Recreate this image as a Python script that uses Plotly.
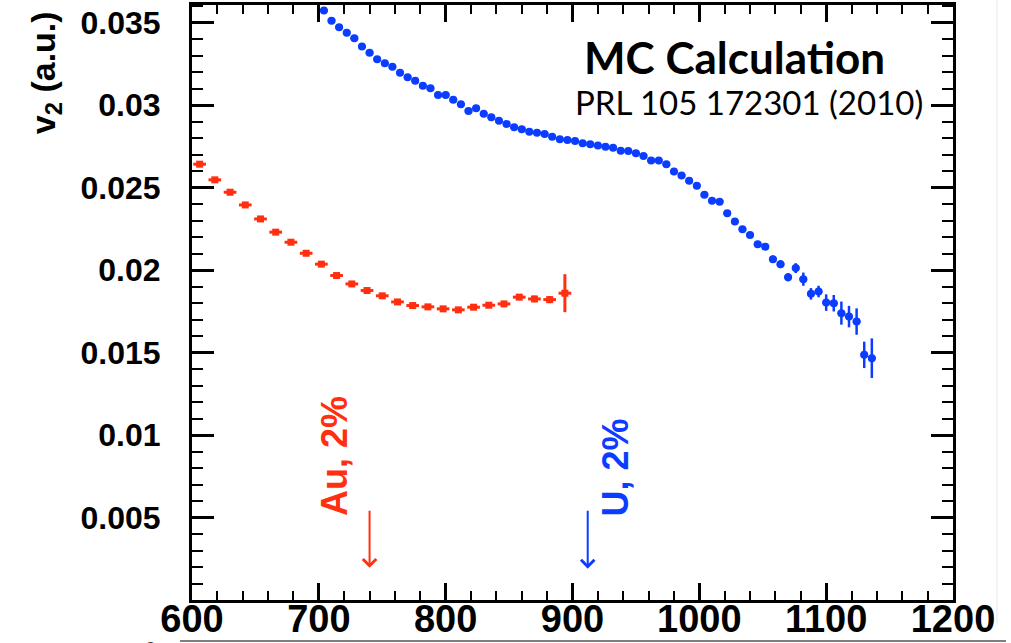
import plotly.graph_objects as go

# ---------------- data ----------------
au_x = [606, 618, 630, 642, 654, 666, 678, 690, 702, 714, 726, 738, 750,
        762, 774, 786, 798, 810, 822, 834, 846, 858, 870, 882, 894]
au_v2 = [0.02642, 0.02547, 0.02472, 0.02395, 0.02310, 0.02230, 0.02169,
         0.02102, 0.02036, 0.01967, 0.01916, 0.01876, 0.01844, 0.01807,
         0.01785, 0.01777, 0.01765, 0.01759, 0.01775, 0.01787, 0.01795,
         0.01836, 0.01825, 0.01821, 0.01860]
au_err = [0.00012, 0.00012, 0.00012, 0.00012, 0.00012, 0.00012, 0.00012,
          0.00012, 0.00012, 0.00012, 0.00012, 0.00012, 0.00012, 0.00012,
          0.00012, 0.00012, 0.00012, 0.00012, 0.00012, 0.00015, 0.00015,
          0.00018, 0.00020, 0.00022, 0.00115]

u_x = [704, 710, 716, 722, 728, 734, 740, 746, 752, 758, 764, 770, 776,
       782, 788, 794, 800, 806, 812, 818, 824, 830, 836, 842, 848, 854,
       860, 866, 872, 878, 884, 890, 896, 902, 908, 914, 920, 926, 932,
       938, 944, 950, 956, 962, 968, 974, 980, 986, 992, 998, 1004, 1010,
       1016, 1022, 1028, 1034, 1040, 1046, 1052, 1058, 1064, 1070, 1076,
       1082, 1088, 1094, 1100, 1106, 1112, 1118, 1124, 1130, 1136]
u_v2 = [0.03573, 0.03512, 0.03472, 0.03439, 0.03405, 0.03355, 0.03318,
        0.03278, 0.03254, 0.03233, 0.03197, 0.03169, 0.03148, 0.03118,
        0.03102, 0.03062, 0.03062, 0.03032, 0.03005, 0.02965, 0.02981,
        0.02947, 0.02927, 0.02906, 0.02886, 0.02866, 0.02854, 0.02839,
        0.02833, 0.02825, 0.02809, 0.02793, 0.02789, 0.02783, 0.02769,
        0.02763, 0.02755, 0.02748, 0.02742, 0.02724, 0.02722, 0.02708,
        0.02692, 0.02664, 0.02664, 0.02642, 0.02597, 0.02573, 0.02541,
        0.02512, 0.02456, 0.02421, 0.02415, 0.02345, 0.02294, 0.02248,
        0.02213, 0.02157, 0.02142, 0.02066, 0.02036, 0.01957, 0.02012,
        0.01945, 0.01856, 0.01870, 0.01803, 0.01799, 0.01739, 0.01718,
        0.01688, 0.01486, 0.01466]
u_err = [0.0001, 0.0001, 0.0001, 0.0001, 0.0001, 0.0001, 0.0001, 0.0001,
         0.0001, 0.0001, 0.0001, 0.0001, 0.0001, 0.0001, 0.0001, 0.0001,
         0.0001, 0.0001, 0.0001, 0.0001, 0.0001, 0.0001, 0.0001, 0.0001,
         0.0001, 0.0001, 0.0001, 0.0001, 0.0001, 0.0001, 0.0001, 0.0001,
         0.0001, 0.0001, 0.0001, 0.0001, 0.0001, 0.0001, 0.0001, 0.0001,
         0.0001, 0.0001, 0.0001, 0.0001, 0.0001, 0.0001, 0.0001, 0.0001,
         0.0001, 0.0001, 0.00012, 0.00012, 0.00012, 0.00014, 0.00015,
         0.00016, 0.00018, 0.0002, 0.0002, 0.00022, 0.00024, 0.00025,
         0.0003, 0.0004, 0.00035, 0.00035, 0.0005, 0.0005, 0.0007, 0.00065,
         0.0008, 0.0008, 0.0012]

x_range = [600, 1200]
y_range = [0, 0.03607]
x_ticks = [600, 700, 800, 900, 1000, 1100, 1200]
y_ticks = [0.005, 0.01, 0.015, 0.02, 0.025, 0.03, 0.035]
y_ticktext = ["0.005", "0.01", "0.015", "0.02", "0.025", "0.03", "0.035"]

RED = "#ff2f10"
BLUE = "#0a3dff"

fig = go.Figure()
fig.add_trace(go.Scatter(
    x=au_x, y=au_v2, mode="markers",
    marker=dict(symbol="square", size=7, color=RED),
    error_x=dict(type="constant", value=5, thickness=3, width=0, color=RED),
    error_y=dict(type="data", array=au_err, thickness=3, width=0, color=RED),
    showlegend=False))
fig.add_trace(go.Scatter(
    x=u_x, y=u_v2, mode="markers",
    marker=dict(symbol="circle", size=8, color=BLUE),
    error_x=dict(type="constant", value=3, thickness=3, width=0, color=BLUE),
    error_y=dict(type="data", array=u_err, thickness=2.5, width=0, color=BLUE),
    showlegend=False))
# empty trace so that the mirrored top/right tick axes are drawn
fig.add_trace(go.Scatter(x=[], y=[], xaxis="x2", yaxis="y2",
                         mode="markers", showlegend=False, hoverinfo="skip"))

bold_font = "Liberation Sans, Arial, sans-serif"

fig.update_layout(
    width=1011, height=643,
    margin=dict(l=192, r=58, t=5, b=43, autoexpand=False),
    paper_bgcolor="white", plot_bgcolor="white",
    xaxis=dict(
        range=x_range, tickvals=x_ticks, ticks="inside", ticklen=17,
        tickwidth=2.5, tickcolor="black", showline=True, linewidth=3,
        linecolor="black", mirror=True, showgrid=False, zeroline=False,
        automargin=False,
        tickfont=dict(family=bold_font, size=38, color="black", weight="bold"),
        ticklabelstandoff=-17,
        minor=dict(dtick=20, ticklen=9, tickwidth=2, ticks="inside",
                   tickcolor="black", showgrid=False)),
    yaxis=dict(
        range=y_range, tickvals=y_ticks, ticktext=y_ticktext,
        ticks="inside", ticklen=22, tickwidth=2.5, tickcolor="black",
        showline=True, linewidth=3, linecolor="black", mirror=True,
        showgrid=False, zeroline=False, automargin=False,
        tickfont=dict(family=bold_font, size=32, color="black", weight="bold"),
        ticklabelstandoff=22,
        minor=dict(dtick=0.001, ticklen=11, tickwidth=2, ticks="inside",
                   tickcolor="black", showgrid=False)),
    # mirrored tick sets on the top and right edges
    xaxis2=dict(
        overlaying="x", side="top", range=x_range, tickvals=x_ticks,
        ticks="inside", ticklen=17, tickwidth=2.5, tickcolor="black",
        showticklabels=False, showline=False, showgrid=False, zeroline=False,
        automargin=False,
        minor=dict(dtick=20, ticklen=9, tickwidth=2, ticks="inside",
                   tickcolor="black", showgrid=False)),
    yaxis2=dict(
        overlaying="y", side="right", range=y_range, tickvals=y_ticks,
        ticks="inside", ticklen=22, tickwidth=2.5, tickcolor="black",
        showticklabels=False, showline=False, showgrid=False, zeroline=False,
        automargin=False,
        minor=dict(dtick=0.001, ticklen=11, tickwidth=2, ticks="inside",
                   tickcolor="black", showgrid=False)),
)

annotations = [
    dict(text="v<sub>2</sub> (a.u.)", xref="paper", yref="paper",
         x=-0.1932, y=0.887, xanchor="center", yanchor="middle",
         textangle=-90, showarrow=False,
         font=dict(family=bold_font, size=34, color="black", weight="bold")),
    dict(text="MC Calculation", xref="paper", yref="paper",
         x=0.7135, y=0.9126, xanchor="center", yanchor="middle",
         showarrow=False,
         font=dict(family="Lato, sans-serif", size=44, color="black", weight="bold")),
    dict(text="PRL 105 172301 (2010)", xref="paper", yref="paper",
         x=0.7320, y=0.837, xanchor="center", yanchor="middle",
         showarrow=False,
         font=dict(family="Lato, sans-serif", size=33, color="black")),
    dict(text="Au, 2%", xref="x", yref="y", x=712.8, y=0.00874,
         xanchor="center", yanchor="middle", textangle=-90, showarrow=False,
         font=dict(family=bold_font, size=36, color=RED, weight="bold")),
    dict(text="U, 2%", xref="x", yref="y", x=933.6, y=0.00804,
         xanchor="center", yanchor="middle", textangle=-90, showarrow=False,
         font=dict(family=bold_font, size=36, color=BLUE, weight="bold")),
    dict(text="", xref="x", yref="y", x=740, y=0.00195,
         axref="x", ayref="y", ax=740, ay=0.0055, showarrow=True,
         arrowhead=4, arrowwidth=2, arrowsize=1.3, arrowcolor=RED),
    dict(text="", xref="x", yref="y", x=912, y=0.0019,
         axref="x", ayref="y", ax=912, ay=0.0055, showarrow=True,
         arrowhead=4, arrowwidth=2, arrowsize=1.3, arrowcolor=BLUE),
    dict(text="0", xref="paper", yref="paper", x=-0.055, y=-0.061,
         xanchor="center", yanchor="top", showarrow=False,
         font=dict(family=bold_font, size=20, color="#333")),
]
fig.update_layout(annotations=annotations)

fig.update_layout(shapes=[
    dict(type="line", xref="paper", yref="paper", x0=-0.0158, x1=1.0696,
         y0=-0.0689, y1=-0.0689, line=dict(color="#555", width=1.5)),
    dict(type="line", xref="paper", yref="paper", x0=1.0578, x1=1.0578,
         y0=-0.04, y1=1.01, line=dict(color="#e8e8e8", width=1)),
])

fig.write_html("out.html",
               config={"displayModeBar": False},
               post_script="document.body.style.margin='0';"
                           "document.body.style.overflow='hidden';")
